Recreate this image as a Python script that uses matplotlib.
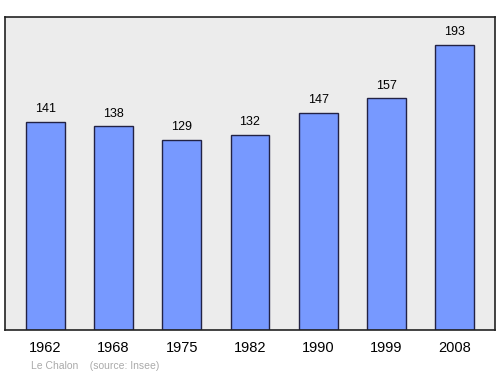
import matplotlib.pyplot as plt

years = ['1962', '1968', '1975', '1982', '1990', '1999', '2008']
population = [141, 138, 129, 132, 147, 157, 193]

fig = plt.figure(figsize=(5, 3.74), dpi=100)
ax = fig.add_axes([0.01, 0.1176, 0.98, 0.837])
ax.set_facecolor('#ececec')

x = range(len(years))
ax.bar(x, population, width=0.57, color='#7799ff', edgecolor='#222244', linewidth=1)

for i, v in zip(x, population):
    ax.text(i, v + 4.5, str(v), ha='center', va='bottom', fontsize=9, family='Liberation Sans')

ax.set_xlim(-0.59, 6.59)
ax.set_ylim(0, 212)
ax.set_yticks([])
ax.set_xticks(list(x))
ax.set_xticklabels(years, fontsize=10.5, family='Liberation Sans')
ax.tick_params(axis='x', length=0, pad=8)
for s in ax.spines.values():
    s.set_linewidth(1.2)
    s.set_color('#222222')

fig.text(0.062, 0.013, 'Le Chalon    (source: Insee)', fontsize=7.5, color='#aaaaaa', family='Liberation Sans')

fig.savefig('out.png', dpi=100)
